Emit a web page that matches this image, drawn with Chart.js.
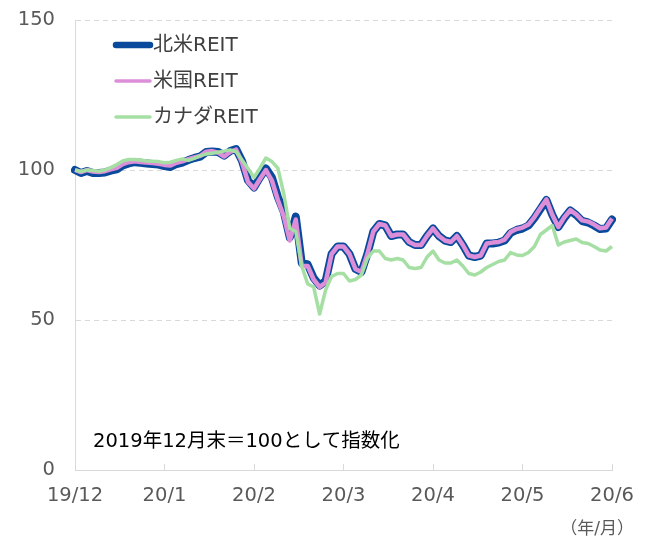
<!DOCTYPE html>
<html lang="ja">
<head>
<meta charset="utf-8">
<script src="https://cdn.jsdelivr.net/npm/chart.js@4.4.1/dist/chart.umd.min.js"></script>
<style>
  html, body { margin: 0; padding: 0; background: #fff; }
  #wrap { width: 654px; height: 542px; }
</style>
</head>
<body>
<div id="wrap"><canvas id="reit-chart" width="654" height="542"></canvas></div>
<script>
// Axis labels (one label per month boundary)
const monthLabels = ['19/12', '20/1', '20/2', '20/3', '20/4', '20/5', '20/6'];
const pointsPerMonth = 15;

// Series names
const seriesNames = ['北米REIT', '米国REIT', 'カナダREIT'];

// 北米REIT (index, 2019/12末 = 100)
const northAmerica = [
  100, 99, 99.7, 99, 99, 99.2, 99.8, 100.2, 101.5, 102.2,
  102.6, 102.4, 102.2, 102, 101.8, 101.3, 101, 102, 102.5, 103.3,
  104, 104.5, 106, 106.2, 106, 104.8, 106.3, 107, 103, 96.5,
  94.2, 97.5, 100.5, 97.5, 91, 86, 77.5, 84.5, 69, 68.5,
  64, 61.5, 63, 72, 74.5, 74.5, 72, 67, 66, 72,
  79.5, 82, 81.5, 78, 78.5, 78.5, 76, 75, 75, 78,
  80.5, 78, 76.5, 76, 78, 75, 71.5, 71, 71.5, 75.5,
  75.5, 75.8, 76.5, 79, 80, 80.5, 81.5, 84, 87, 90,
  85, 81, 84, 86.5, 85, 83, 82.5, 81.5, 80.3, 80.5, 83.5
];

// 米国REIT
const usReit = [
  100, 99.3, 100, 99.5, 99.3, 99.6, 100.2, 100.7, 102, 102.6,
  102.9, 102.7, 102.5, 102.3, 102.1, 101.7, 101.5, 102.4, 102.9, 103.6,
  104.2, 104.7, 106.1, 106.3, 105.8, 104.5, 106, 106.8, 102.5, 96,
  93.8, 97, 100, 96.5, 90, 84.5, 76.5, 83.5, 68, 68,
  63.5, 61, 62.5, 72, 74.5, 74.5, 72, 67, 66, 72,
  79.5, 82, 81.5, 78, 78.5, 78.5, 76, 75, 75, 78,
  80.5, 78, 76.5, 76, 78, 75, 71.5, 71, 71.5, 75.5,
  75.8, 76, 76.8, 79.3, 80.3, 80.8, 81.8, 84.3, 87.3, 90.2,
  85, 81, 84.2, 86.6, 85.2, 83.2, 82.8, 81.8, 80.6, 80.8, 83.8
];

// カナダREIT
const canadaReit = [
  100, 99.5, 100, 99.8, 99.6, 100, 100.8, 101.8, 103, 103.5,
  103.5, 103.3, 103, 102.9, 102.8, 102.4, 102.6, 103.2, 103.7, 103.2,
  103.9, 104.8, 105.3, 105.6, 105.9, 106.3, 106.7, 106.1, 103.3, 100.5,
  97.5, 100.6, 104, 102.8, 100.6, 92, 80.5, 79.5, 68, 62,
  61, 52, 60, 64.5, 65.5, 65.5, 63, 63.5, 65, 70.5,
  73, 73, 70.5, 70, 70.5, 70, 67.5, 67.2, 67.5, 71,
  73, 70, 69, 69, 70, 68, 65.5, 65, 66, 67.5,
  68.5, 69.5, 70, 72.5, 71.7, 71.5, 72.5, 74.5, 78.5, 80,
  81.5, 75, 76, 76.5, 77, 75.8, 75.5, 74.5, 73.3, 73, 74.5
];

// Y axis range
const yMin = 0;
const yMax = 150;
const yStep = 50;

const noteText = '2019年12月末＝100として指数化';
const unitText = '（年/月）';

const FONT = '"DejaVu Sans", "Noto Sans CJK JP", sans-serif';

// one label per point, month label at each boundary
const pointLabels = northAmerica.map((_, i) =>
  i % pointsPerMonth === 0 ? monthLabels[i / pointsPerMonth] : ''
);

// Legend, note and unit text
const notesPlugin = {
  id: 'reitNotes',
  afterDraw(chart) {
    const ctx = chart.ctx;
    const legendWidths = [6.5, 3.5, 3.5];
    ctx.save();

    // Legend (top-left, vertical)
    chart.data.datasets.forEach((ds, i) => {
      const y = 45 + i * 36;
      ctx.beginPath();
      ctx.strokeStyle = ds.borderColor;
      ctx.lineWidth = legendWidths[i];
      ctx.lineCap = 'round';
      ctx.moveTo(116, y);
      ctx.lineTo(150, y);
      ctx.stroke();

      ctx.fillStyle = '#404040';
      ctx.font = '20px ' + FONT;
      ctx.textBaseline = 'middle';
      ctx.textAlign = 'left';
      ctx.fillText(ds.label, 153, y + 1);
    });

    // Note inside plot
    ctx.fillStyle = '#000';
    ctx.font = '19.5px ' + FONT;
    ctx.textBaseline = 'middle';
    ctx.fillText(noteText, 93, 442);

    // Unit text
    ctx.fillStyle = '#595959';
    ctx.font = '17px ' + FONT;
    ctx.textAlign = 'right';
    ctx.fillText(unitText, 634, 530);

    ctx.restore();
  }
};

const ctx = document.getElementById('reit-chart').getContext('2d');

new Chart(ctx, {
  type: 'line',
  data: {
    labels: pointLabels,
    datasets: [
      {
        label: seriesNames[0],
        data: northAmerica,
        borderColor: '#0a4a9c',
        borderWidth: 8,
        pointRadius: 0,
        tension: 0,
        borderJoinStyle: 'round',
        borderCapStyle: 'round',
        order: 2
      },
      {
        label: seriesNames[1],
        data: usReit,
        borderColor: '#dc8fd8',
        borderWidth: 4.5,
        pointRadius: 0,
        tension: 0,
        borderJoinStyle: 'round',
        order: 1
      },
      {
        label: seriesNames[2],
        data: canadaReit,
        borderColor: '#a6dfa3',
        borderWidth: 3.5,
        pointRadius: 0,
        tension: 0,
        borderJoinStyle: 'round',
        order: 0
      }
    ]
  },
  options: {
    responsive: false,
    animation: false,
    layout: {
      padding: { top: 20, right: 42, bottom: 0, left: 0 }
    },
    plugins: {
      legend: { display: false },
      tooltip: { enabled: false }
    },
    scales: {
      x: {
        type: 'category',
        offset: false,
        grid: {
          display: true,
          drawOnChartArea: false,
          drawTicks: true,
          tickLength: -6,
          tickColor: (c) => pointLabels[c.index] ? '#d9d9d9' : 'rgba(0,0,0,0)'
        },
        border: { display: true, color: '#d9d9d9', width: 1 },
        ticks: {
          autoSkip: false,
          maxRotation: 0,
          padding: 20,
          color: '#595959',
          font: { family: FONT, size: 19.5 }
        },
        afterFit: (scale) => {
          scale.height = 72;
          scale.paddingLeft = 0;
          scale.paddingRight = 0;
        }
      },
      y: {
        min: yMin,
        max: yMax,
        ticks: {
          stepSize: yStep,
          padding: 20,
          color: '#595959',
          font: { family: FONT, size: 19.5 }
        },
        grid: {
          color: (c) => c.tick.value === yMin ? 'rgba(0,0,0,0)' : '#d9d9d9',
          drawTicks: false
        },
        border: { display: true, color: '#d9d9d9', dash: [5, 4] },
        afterFit: (scale) => {
          scale.width = 75;
          scale.paddingTop = 0;
          scale.paddingBottom = 0;
        }
      }
    }
  },
  plugins: [notesPlugin]
});
</script>
</body>
</html>
